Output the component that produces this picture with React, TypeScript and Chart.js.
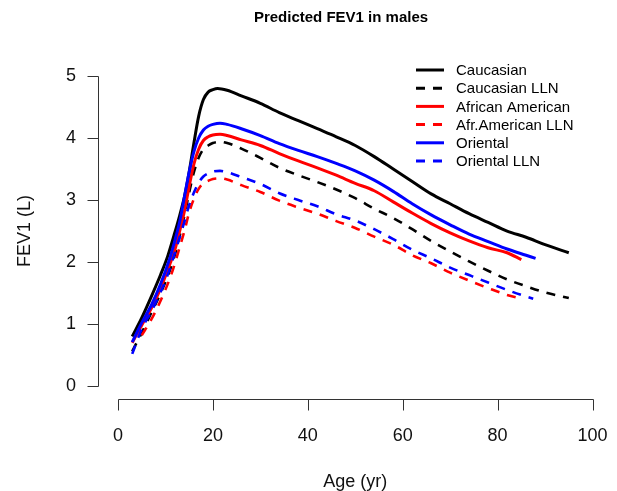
import { useEffect, useRef } from "react";
import { Chart, registerables } from "chart.js";

Chart.register(...registerables);

const FONT = '"Liberation Sans", Arial, Helvetica, sans-serif';

const chartTitle = "Predicted FEV1 in males";
const xTitle = "Age (yr)";
const yTitle = "FEV1 (L)";

const xTicks = [0, 20, 40, 60, 80, 100];
const yTicks = [0, 1, 2, 3, 4, 5];

const seriesLabels = [
  "Caucasian",
  "Caucasian LLN",
  "African American",
  "Afr.American LLN",
  "Oriental",
  "Oriental LLN",
];
const seriesColors = ["#000000", "#000000", "#ff0000", "#ff0000", "#0000ff", "#0000ff"];
const seriesDashed = [false, true, false, true, false, true];

const caucasianAges = [3, 5, 7, 9, 10.5, 12, 13, 14, 15, 16, 17, 18, 19, 20, 21, 23, 26, 30, 34, 38, 42, 46, 50, 54, 58, 62, 66, 70, 74, 78, 82, 86, 90, 95];
const caucasianValues = [0.8, 1.1, 1.44, 1.8, 2.1, 2.48, 2.75, 3.05, 3.45, 3.92, 4.35, 4.62, 4.74, 4.78, 4.8, 4.77, 4.68, 4.56, 4.41, 4.28, 4.15, 4.02, 3.88, 3.7, 3.5, 3.3, 3.1, 2.94, 2.78, 2.64, 2.5, 2.4, 2.28, 2.15];

const caucasianLlnAges = [3, 5, 7, 9, 11, 12, 13, 14, 15, 16, 17, 18, 19, 20, 21.5, 23, 26, 30, 34, 38, 42, 46, 50, 54, 58, 62, 66, 70, 74, 78, 82, 86, 90, 95];
const caucasianLlnValues = [0.56, 0.86, 1.18, 1.5, 1.88, 2.12, 2.42, 2.75, 3.12, 3.45, 3.68, 3.82, 3.88, 3.92, 3.94, 3.92, 3.83, 3.68, 3.52, 3.4, 3.29, 3.17, 3.03, 2.86, 2.71, 2.53, 2.34, 2.17, 2.01, 1.86, 1.72, 1.61, 1.51, 1.42];

const africanAges = [3, 5, 7, 9, 11, 12, 13, 14, 15, 16, 17, 18, 19, 20, 21.5, 23, 26, 30, 34, 38, 42, 46, 50, 54, 58, 62, 66, 70, 74, 78, 82, 85];
const africanValues = [0.7, 0.98, 1.25, 1.58, 1.98, 2.2, 2.5, 2.82, 3.22, 3.58, 3.82, 3.96, 4.02, 4.05, 4.06, 4.04, 3.97, 3.88, 3.75, 3.63, 3.52, 3.4, 3.27, 3.15, 2.97, 2.79, 2.62, 2.47, 2.34, 2.23, 2.15, 2.04];

const africanLlnAges = [5, 7, 9, 11, 12, 13, 14, 15, 16, 17, 18, 19, 20, 21.5, 23, 26, 30, 34, 38, 42, 46, 50, 54, 58, 62, 66, 70, 74, 78, 82, 85];
const africanLlnValues = [0.82, 1.07, 1.38, 1.75, 1.98, 2.24, 2.5, 2.8, 3.02, 3.18, 3.27, 3.31, 3.34, 3.35, 3.33, 3.24, 3.13, 2.99, 2.88, 2.78, 2.66, 2.55, 2.41, 2.28, 2.11, 1.98, 1.83, 1.7, 1.58, 1.47, 1.41];

const orientalAges = [3, 5, 7, 9, 11, 12, 13, 14, 15, 16, 17, 18, 19, 20, 21.5, 23, 26, 30, 34, 38, 42, 46, 50, 54, 58, 62, 66, 70, 74, 78, 82, 86, 88];
const orientalValues = [0.71, 1.02, 1.3, 1.65, 2.08, 2.35, 2.65, 3.05, 3.45, 3.78, 4.0, 4.13, 4.19, 4.22, 4.24, 4.22, 4.15, 4.04, 3.91, 3.8, 3.7, 3.59, 3.47, 3.32, 3.14, 2.94, 2.76, 2.6, 2.45, 2.33, 2.21, 2.11, 2.06];

const orientalLlnAges = [3, 5, 7, 9, 10.3, 12, 13, 14, 15, 16, 17, 18, 19, 20, 21.5, 23, 26, 30, 34, 38, 42, 46, 50, 54, 58, 62, 66, 70, 74, 78, 82, 85, 87.5];
const orientalLlnValues = [0.52, 0.92, 1.2, 1.52, 1.76, 2.15, 2.4, 2.65, 2.92, 3.12, 3.28, 3.38, 3.43, 3.46, 3.47, 3.45, 3.37, 3.26, 3.11, 3.0, 2.9, 2.77, 2.67, 2.53, 2.37, 2.2, 2.06, 1.91, 1.79, 1.67, 1.55, 1.47, 1.41];

const seriesAges = [caucasianAges, caucasianLlnAges, africanAges, africanLlnAges, orientalAges, orientalLlnAges];
const seriesValues = [caucasianValues, caucasianLlnValues, africanValues, africanLlnValues, orientalValues, orientalLlnValues];

const DASH = [9, 8];

const axisPlugin = {
  id: "rAxes",
  afterDraw(chart: any) {
    const { ctx, chartArea, scales } = chart;
    const x = scales.x;
    const y = scales.y;
    ctx.save();
    ctx.strokeStyle = "#333333";
    ctx.lineWidth = 1;
    ctx.setLineDash([]);
    const ax = Math.round(chartArea.left) - 0.5;
    const yTop = y.getPixelForValue(yTicks[yTicks.length - 1]);
    const yBot = y.getPixelForValue(yTicks[0]);
    ctx.beginPath();
    ctx.moveTo(ax, Math.round(yTop) + 0.5);
    ctx.lineTo(ax, Math.round(yBot) + 0.5);
    for (const v of yTicks) {
      const p = Math.round(y.getPixelForValue(v)) + 0.5;
      ctx.moveTo(ax, p);
      ctx.lineTo(ax - 11, p);
    }
    ctx.stroke();
    const ay = Math.round(chartArea.bottom) + 0.5;
    const xl = x.getPixelForValue(xTicks[0]);
    const xr = x.getPixelForValue(xTicks[xTicks.length - 1]);
    ctx.beginPath();
    ctx.moveTo(Math.round(xl) + 0.5, ay);
    ctx.lineTo(Math.round(xr) + 0.5, ay);
    for (const v of xTicks) {
      const p = Math.round(x.getPixelForValue(v)) + 0.5;
      ctx.moveTo(p, ay);
      ctx.lineTo(p, ay + 11);
    }
    ctx.stroke();
    ctx.restore();
  },
};

const titlePlugin = {
  id: "rTitle",
  afterDraw(chart: any) {
    const { ctx } = chart;
    ctx.save();
    ctx.font = `bold 15px ${FONT}`;
    ctx.fillStyle = "#000";
    ctx.textAlign = "center";
    ctx.textBaseline = "middle";
    ctx.fillText(chartTitle, 341, 18);
    ctx.restore();
  },
};

const legendPlugin = {
  id: "rLegend",
  afterDraw(chart: any) {
    const { ctx } = chart;
    const ds = chart.data.datasets;
    ctx.save();
    ctx.font = `15px ${FONT}`;
    ctx.textAlign = "left";
    ctx.textBaseline = "middle";
    ds.forEach((d: any, i: number) => {
      const yy = 70 + i * 18.2;
      ctx.strokeStyle = d.borderColor;
      ctx.lineWidth = 3;
      ctx.setLineDash(d.borderDash || []);
      ctx.beginPath();
      ctx.moveTo(416, yy);
      ctx.lineTo(444, yy);
      ctx.stroke();
      ctx.setLineDash([]);
      ctx.fillStyle = "#000";
      ctx.fillText(d.label, 456, yy + 1);
    });
    ctx.restore();
  },
};

export default function App() {
  const ref = useRef<HTMLCanvasElement>(null);
  useEffect(() => {
    if (!ref.current) return;
    const datasets = seriesLabels.map((label, i) => ({
      label,
      data: seriesAges[i].map((a, j) => ({ x: a, y: seriesValues[i][j] })),
      borderColor: seriesColors[i],
      backgroundColor: seriesColors[i],
      borderWidth: seriesDashed[i] ? 2.6 : 3,
      borderDash: seriesDashed[i] ? DASH : [],
      pointRadius: 0,
      fill: false,
      cubicInterpolationMode: "monotone" as const,
      order: seriesLabels.length - i,
    }));
    const chart = new Chart(ref.current, {
      type: "line",
      data: { datasets },
      options: {
        animation: false,
        responsive: false,
        layout: { padding: { left: 0, right: 5.5, top: 63.6, bottom: 0 } },
        plugins: {
          legend: { display: false },
          title: { display: false },
          tooltip: { enabled: false },
        },
        scales: {
          x: {
            type: "linear",
            min: -4,
            max: 104,
            afterBuildTicks: (s: any) => {
              s.ticks = xTicks.map((v) => ({ value: v }));
            },
            afterFit: (s: any) => {
              s.height = 92.5;
              s.paddingLeft = 0;
              s.paddingRight = 0;
            },
            grid: { display: false, drawTicks: false },
            border: { display: false },
            ticks: {
              padding: 27,
              autoSkip: false,
              maxRotation: 0,
              color: "#111",
              font: { family: FONT, size: 18 },
            },
            title: {
              display: true,
              text: xTitle,
              color: "#111",
              font: { family: FONT, size: 18, lineHeight: 1 },
              padding: { top: 0, bottom: 0 },
            },
          },
          y: {
            type: "linear",
            min: -0.2,
            max: 5.2,
            afterBuildTicks: (s: any) => {
              s.ticks = yTicks.map((v) => ({ value: v }));
            },
            afterFit: (s: any) => {
              s.width = 99;
              s.paddingTop = 0;
              s.paddingBottom = 0;
            },
            grid: { display: false, drawTicks: false },
            border: { display: false },
            ticks: {
              padding: 23,
              autoSkip: false,
              color: "#111",
              font: { family: FONT, size: 18 },
            },
            title: {
              display: true,
              text: yTitle,
              color: "#111",
              font: { family: FONT, size: 18, lineHeight: 1 },
              padding: { top: 16, bottom: 0 },
            },
          },
        },
      },
      plugins: [axisPlugin, titlePlugin, legendPlugin],
    });
    return () => chart.destroy();
  }, []);
  return (
    <div style={{ position: "absolute", left: 0, top: 0, width: 617, height: 491, background: "#fff" }}>
      <canvas ref={ref} width={617} height={491} style={{ width: 617, height: 491, display: "block" }} />
    </div>
  );
}
